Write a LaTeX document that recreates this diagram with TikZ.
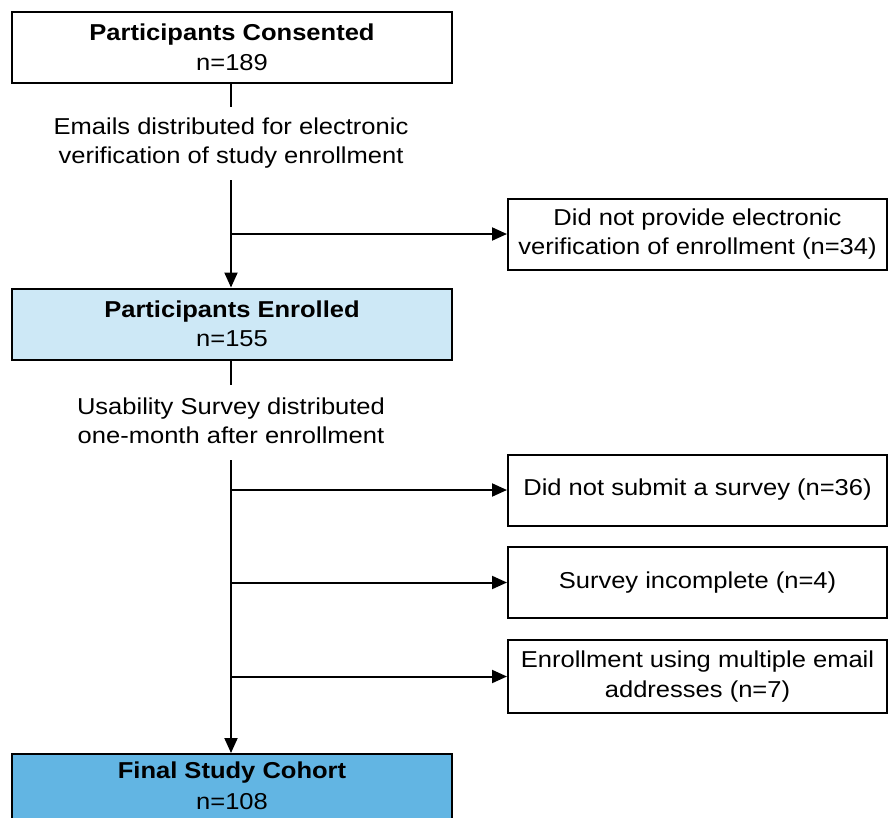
\documentclass[tikz,border=0pt]{standalone}
\usepackage{fontspec}
\setmainfont[FakeStretch=1.11]{Liberation Sans}
\usetikzlibrary{arrows.meta}
\definecolor{lightblue}{HTML}{CDE8F6}
\definecolor{midblue}{HTML}{62B5E3}
\begin{document}
\begin{tikzpicture}[x=1pt,y=-1pt,
  box/.style={draw=black, line width=2pt, rectangle, align=center,
    font=\fontsize{23}{29.5}\selectfont, inner sep=0pt},
  mainbox/.style={box, minimum width=440pt, minimum height=71pt},
  sidebox/.style={box, minimum width=379pt, minimum height=71pt},
  lab/.style={align=center, font=\fontsize{23}{29.5}\selectfont, inner sep=0pt},
  conn/.style={line width=2pt, draw=black},
  arr/.style={conn, -{Triangle[length=15pt,width=13pt]}}]
\clip (0,0) rectangle (889,817);
\fill[white] (0,0) rectangle (889,817);

\node[mainbox] (cons) at (232,47.5) {\textbf{Participants Consented}\\n=189};
\node[lab] (lab1) at (231,143) {Emails distributed for electronic\\verification of study enrollment};
\node[mainbox, fill=lightblue] (enr) at (232,324) {\textbf{Participants Enrolled}\\n=155};
\node[lab] (lab2) at (231,421) {Usability Survey distributed\\one-month after enrollment};
\node[mainbox, fill=midblue, minimum height=100pt, anchor=north] (fin) at (232,753) {};
\node[lab, font=\fontsize{23}{29.5}\selectfont\bfseries] (fint) at (232,773) {Final Study Cohort};
\node[lab] (finn) at (232,802) {n=108};

\node[sidebox] (r1) at (697.5,234) {Did not provide electronic\\verification of enrollment (n=34)};
\node[sidebox] (r2) at (697.5,490) {Did not submit a survey (n=36)};
\node[sidebox] (r3) at (697.5,582.5) {Survey incomplete (n=4)};
\node[sidebox, minimum height=73pt] (r4) at (697.5,676.5) {Enrollment using multiple email\\addresses (n=7)};

\draw[conn] (cons.south -| 231,0) -- (231,107);
\draw[arr] (231,180) -- (enr.north -| 231,0);
\draw[conn] (enr.south -| 231,0) -- (231,385);
\draw[arr] (231,460) -- (fin.north -| 231,0);

\coordinate (b1) at (231,234);
\coordinate (b2) at (231,490);
\coordinate (b3) at (231,582.5);
\coordinate (b4) at (231,676.5);
\draw[arr] (b1) -- (r1.west);
\draw[arr] (b2) -- (r2.west);
\draw[arr] (b3) -- (r3.west);
\draw[arr] (b4) -- (r4.west);
\end{tikzpicture}
\end{document}
